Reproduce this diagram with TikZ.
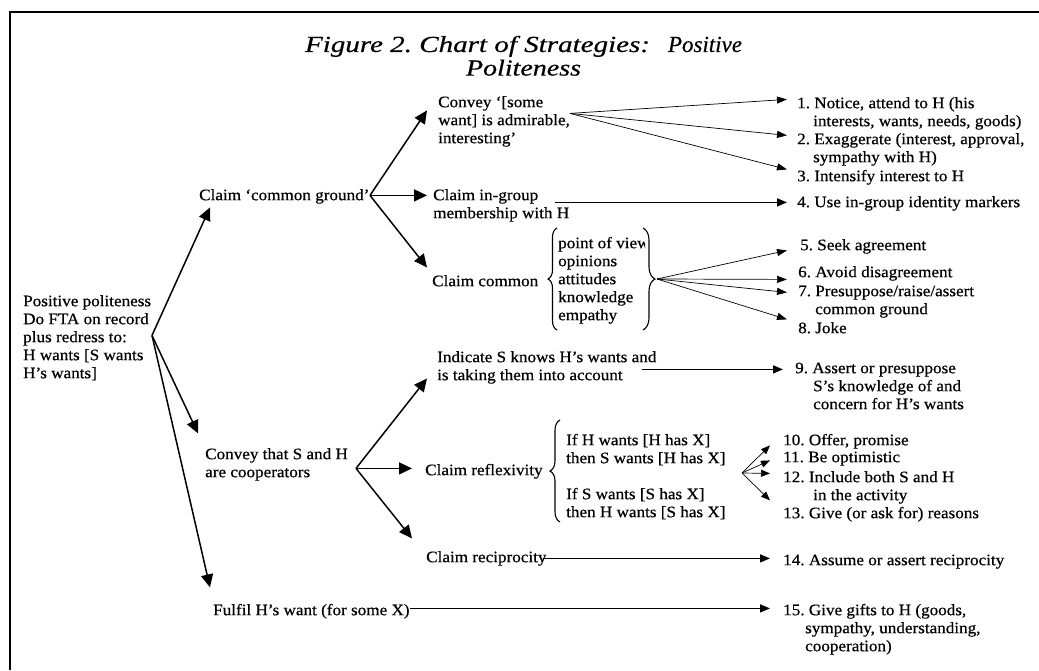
\documentclass[tikz,border=0pt]{standalone}
\usepackage{fontspec}
\usepackage{graphicx}
\setmainfont[FakeStretch=1.07,FakeBold=0.5]{Liberation Serif}
\usetikzlibrary{arrows.meta,decorations.pathreplacing,calc}
\begin{document}
\frenchspacing
\begin{tikzpicture}[x=1pt,y=-1pt,
  txt/.style={inner sep=0pt, anchor=north west, yshift=12.6pt, align=left, font=\fontsize{16}{18}\selectfont},
  big/.style={line width=1.5pt, -{Triangle[length=13pt,width=12pt]}},
  mid/.style={line width=1.4pt, -{Triangle[length=10pt,width=8pt]}},
  thin/.style={line width=0.7pt, -{Triangle[length=10pt,width=7pt]}},
  tiny/.style={line width=0.7pt, -{Triangle[length=9pt,width=7pt]}},
  brc/.style={line width=1.1pt, decorate, decoration={brace, amplitude=#1}},
]
\useasboundingbox (0,0) rectangle (1039,670);
\draw[line width=2pt] (1039,12) -- (10,12) -- (10,670);

% title
\node[inner sep=0pt, anchor=north, align=center, font=\fontsize{23}{22}\selectfont\itshape] (title) at (523.5,35.6)
  {\strut\makebox[437pt][l]{\resizebox{345pt}{\height}{Figure 2. Chart of Strategies:}\hfill\resizebox{74pt}{\height}{Positive}}\\\resizebox{115pt}{\height}{Politeness}};

% left column
\node[txt] (root) at (23,306) {\strut Positive politeness\\Do FTA on record\\plus redress to:\\H wants [S wants\\H’s wants]};
\node[txt] (cg) at (199,200) {\strut Claim ‘common ground’};
\node[txt] (coop) at (205,459) {\strut Convey that S and H\\are cooperators};
\node[txt] (ful) at (213,615) {\strut Fulfil H’s want (for some X)};

% middle column
\node[txt] (conv) at (438,107) {\strut Convey ‘[some\\want] is admirable,\\interesting’};
\node[txt] (ingrp) at (433,200) {\strut Claim in-group\\membership with H};
\node[txt] (ccom) at (432,286) {\strut Claim common};
\begin{scope}
\clip (550,225) rectangle (645,335);
\node[txt] (vals) at (558,248) {\strut point of view\\opinions\\attitudes\\knowledge\\empathy};
\end{scope}
\draw[brc=9pt] (557,330) -- (557,228);
\draw[brc=12pt] (643,228) -- (643,330);
\coordinate (rb) at (657,279);
\node[txt] (ind) at (437,362) {\strut Indicate S knows H’s wants and\\is taking them into account};
\node[txt] (refl) at (425,475) {\strut Claim reflexivity};
\draw[brc=10pt] (560,522) -- (560,420);
\node[txt] (ifh) at (566,445) {\strut If H wants [H has X]\\then S wants [H has X]};
\node[txt] (ifs) at (566,499) {\strut If S wants [S has X]\\then H wants [S has X]};
\coordinate (rf) at (742,473);
\node[txt] (recip) at (426,562) {\strut Claim reciprocity};

% right column
\node[txt] (s1) at (797,108) {\strut 1. Notice, attend to H (his\\\hspace*{16pt}interests, wants, needs, goods)};
\node[txt] (s2) at (797,144) {\strut 2. Exaggerate (interest, approval,\\\hspace*{16pt}sympathy with H)};
\node[txt] (s3) at (797,181) {\strut 3. Intensify interest to H};
\node[txt] (s4) at (797,207) {\strut 4. Use in-group identity markers};
\node[txt] (s5) at (800,250) {\strut 5. Seek agreement};
\node[txt] (s6) at (798,277) {\strut 6. Avoid disagreement};
\node[txt] (s7) at (798,296) {\strut 7. Presuppose/raise/assert\\\hspace*{17pt}common ground};
\node[txt] (s8) at (798,333) {\strut 8. Joke};
\node[txt] (s9) at (795,373) {\strut 9. Assert or presuppose\\\hspace*{18pt}S’s knowledge of and\\\hspace*{18pt}concern for H’s wants};
\node[txt] (s10) at (783,445) {\strut 10. Offer, promise};
\node[txt] (s11) at (783,462) {\strut 11. Be optimistic};
\node[txt] (s12) at (783,482) {\strut 12. Include both S and H\\\hspace*{30pt}in the activity};
\node[txt] (s13) at (783,518) {\strut 13. Give (or ask for) reasons};
\node[txt] (s14) at (783,565) {\strut 14. Assume or assert reciprocity};
\node[txt] (s15) at (783,615) {\strut 15. Give gifts to H (goods,\\\hspace*{22pt}sympathy, understanding,\\\hspace*{22pt}cooperation)};

% apexes
\coordinate (ra) at ($(root.north west)+(129,42)$);
\coordinate (cga) at ($(cg.north west)+(171,8)$);
\coordinate (coa) at ($(coop.north west)+(151,22)$);

% big arrows
\draw[big] (ra) -- ($(cg.north west)+(11,20)$);
\draw[big] (ra) -- ($(coop.north west)+(-7,-13)$);
\draw[big] (ra) -- ($(ful.north west)+(-3,-15)$);
\draw[big] (cga) -- ($(conv.north west)+(-11,16)$);
\draw[big] (cga) -- ($(ingrp.north west)+(-6,8)$);
\draw[big] (cga) -- ($(ccom.north west)+(-5,-6)$);
\draw[big] (coa) -- ($(ind.north west)+(-10,29)$);
\draw[big] (coa) -- ($(refl.north west)+(-13,6)$);
\draw[big] (coa) -- ($(recip.north west)+(-14,-11)$);

% fans
\coordinate (cvf) at ($(conv.north west)+(132,19)$);
\draw[thin] (cvf) -- ($(s1.north west)+(-10,4)$);
\draw[thin] (cvf) -- ($(s2.north west)+(-10,4)$);
\draw[thin] (cvf) -- ($(s3.north west)+(-10,1)$);
\draw[thin] (rb) -- ($(s5.north west)+(-13,13)$);
\draw[thin] (rb) -- ($(s6.north west)+(-11,15)$);
\draw[thin] (rb) -- ($(s7.north west)+(-11,9)$);
\draw[thin] (rb) -- ($(s8.north west)+(-11,-1)$);
\draw[tiny] (rf) -- ($(s10.north west)+(-13,13)$);
\draw[tiny] (rf) -- ($(s11.north west)+(-13,11)$);
\draw[tiny] (rf) -- ($(s12.north west)+(-13,4)$);
\draw[tiny] (rf) -- ($(s13.north west)+(-13,-5)$);

% long horizontal arrows
\draw[mid] ($(ingrp.north west)+(122,15)$) -- ($(s4.north west)+(-10,8)$);
\draw[mid] ($(ind.north west)+(205,20)$) -- ($(s9.north west)+(-12,9)$);
\draw[mid] ($(recip.north west)+(117,9)$) -- ($(s14.north west)+(-13,6)$);
\draw[mid] ($(ful.north west)+(197,6)$) -- ($(s15.north west)+(-13,6)$);
\end{tikzpicture}
\end{document}
